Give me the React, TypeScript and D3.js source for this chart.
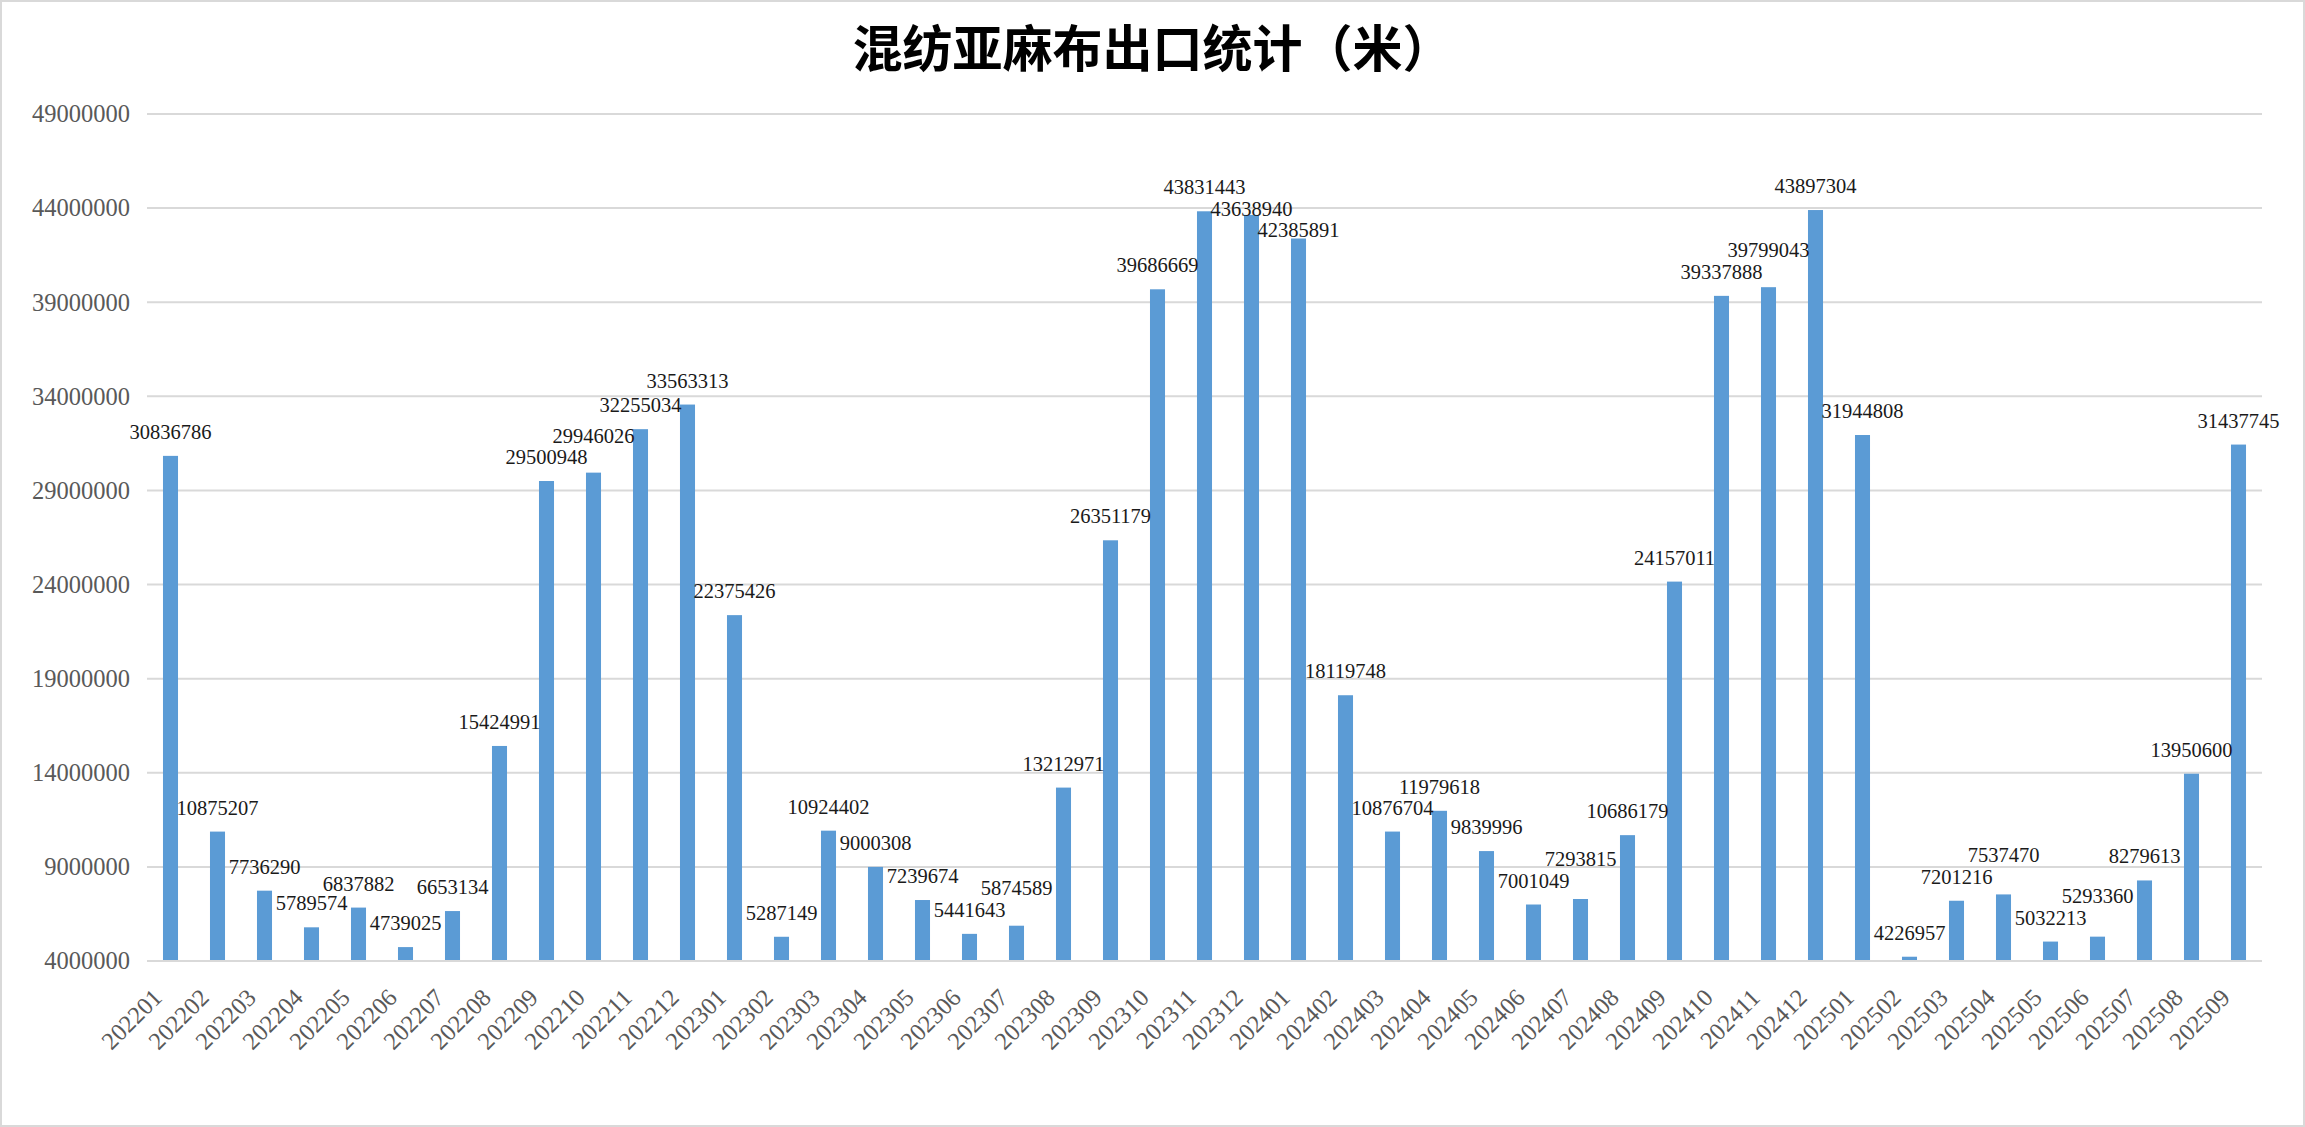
import React, { useMemo } from "react";
import * as d3 from "d3";

const W = 2305;
const H = 1127;

const title = "混纺亚麻布出口统计（米）";

const months = [
  "202201", "202202", "202203", "202204", "202205", "202206", "202207", "202208", "202209", "202210", "202211", "202212",
  "202301", "202302", "202303", "202304", "202305", "202306", "202307", "202308", "202309", "202310", "202311", "202312",
  "202401", "202402", "202403", "202404", "202405", "202406", "202407", "202408", "202409", "202410", "202411", "202412",
  "202501", "202502", "202503", "202504", "202505", "202506", "202507", "202508", "202509",
];

const exportsMeters = [
  30836786, 10875207, 7736290, 5789574, 6837882, 4739025, 6653134, 15424991, 29500948, 29946026, 32255034, 33563313,
  22375426, 5287149, 10924402, 9000308, 7239674, 5441643, 5874589, 13212971, 26351179, 39686669, 43831443, 43638940,
  42385891, 18119748, 10876704, 11979618, 9839996, 7001049, 7293815, 10686179, 24157011, 39337888, 39799043, 43897304,
  31944808, 4226957, 7201216, 7537470, 5032213, 5293360, 8279613, 13950600, 31437745,
];

const yTicks = [4000000, 9000000, 14000000, 19000000, 24000000, 29000000, 34000000, 39000000, 44000000, 49000000];

const margin = { left: 147, right: 2262, top: 114, bottom: 961 };
const labelFont = 20.5;
const tickFont = 24.5;
const digitW = 0.5; // em per digit for Liberation Serif
const cap = 13.5;
const pad = 4;
const gap = 17;

export default function App() {
  const x = useMemo(
    () => d3.scaleBand<string>().domain(months).range([margin.left, margin.right]).paddingInner(0.68).paddingOuter(0.34),
    []
  );
  const y = useMemo(
    () => d3.scaleLinear().domain([yTicks[0], yTicks[yTicks.length - 1]]).range([margin.bottom, margin.top]),
    []
  );

  const labels = useMemo(() => {
    const placed: { cx: number; w: number; b: number; v: number }[] = [];
    exportsMeters.forEach((v, i) => {
      const cx = (x(months[i]) as number) + x.bandwidth() / 2;
      const w = String(v).length * digitW * labelFont;
      let b = y(v) - gap;
      for (let iter = 0; iter < 6; iter++) {
        let moved = false;
        for (const p of placed) {
          const xo = Math.min(cx + w / 2, p.cx + p.w / 2) - Math.max(cx - w / 2, p.cx - p.w / 2);
          const top1 = b - cap - pad, bot1 = b + pad;
          const top2 = p.b - cap - pad, bot2 = p.b + pad;
          const yo = Math.min(bot1, bot2) - Math.max(top1, top2);
          if (xo > 2 && yo > 2) {
            if (v > p.v) b = p.b - (cap + 2 * pad);
            else b = p.b + (cap + 2 * pad);
            moved = true;
          }
        }
        if (!moved) break;
      }
      placed.push({ cx, w, b, v });
    });
    return placed;
  }, [x, y]);

  return (
    <div style={{ position: "absolute", left: 0, top: 0, width: W, height: H, background: "#fff" }}>
      <svg width={W} height={H} viewBox={`0 0 ${W} ${H}`} style={{ display: "block" }}>
        <rect x={1} y={1} width={W - 2} height={H - 2} fill="#fff" stroke="#D9D9D9" strokeWidth={2} />
        <text
          x={W / 2}
          y={67}
          textAnchor="middle"
          fontFamily="'Noto Sans CJK SC', 'Noto Sans', sans-serif"
          fontWeight={700}
          fontSize={50}
          fill="#000"
        >
          {title}
        </text>
        {yTicks.map((t) => (
          <g key={t}>
            <line x1={margin.left} x2={margin.right} y1={y(t)} y2={y(t)} stroke="#D9D9D9" strokeWidth={2} />
            <text
              x={130}
              y={y(t)}
              dy="0.34em"
              textAnchor="end"
              fontFamily="'Liberation Serif', serif"
              fontSize={tickFont}
              fill="#595959"
            >
              {t}
            </text>
          </g>
        ))}
        {exportsMeters.map((v, i) => (
          <rect
            key={months[i]}
            x={x(months[i])}
            y={y(v)}
            width={x.bandwidth()}
            height={y(yTicks[0]) - y(v)}
            fill="#5B9BD5"
          />
        ))}
        <line x1={margin.left} x2={margin.right} y1={y(yTicks[0])} y2={y(yTicks[0])} stroke="#D9D9D9" strokeWidth={2} />
        {labels.map((l, i) => (
          <text
            key={"l" + i}
            x={l.cx}
            y={l.b}
            textAnchor="middle"
            fontFamily="'Liberation Serif', serif"
            fontSize={labelFont}
            fill="#1a1a1a"
          >
            {exportsMeters[i]}
          </text>
        ))}
        {months.map((m) => {
          const cx = (x(m) as number) + x.bandwidth() / 2;
          return (
            <text
              key={"x" + m}
              transform={`translate(${cx - 7},${999}) rotate(-45)`}
              textAnchor="end"
              fontFamily="'Liberation Serif', serif"
              fontSize={tickFont}
              fill="#595959"
            >
              {m}
            </text>
          );
        })}
      </svg>
    </div>
  );
}
